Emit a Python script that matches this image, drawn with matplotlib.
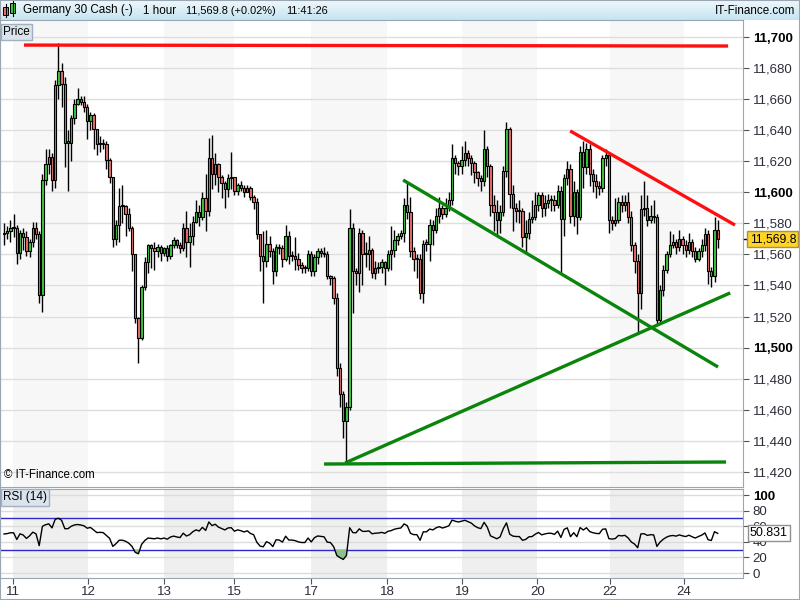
import numpy as np
import matplotlib
matplotlib.use("Agg")
import matplotlib.pyplot as plt
import matplotlib.transforms as mtransforms
from matplotlib.patches import Rectangle

plt.rcParams['font.family'] = ['Liberation Sans', 'DejaVu Sans']

# hourly bars (Germany 30 Cash)
closes = [11574, 11575, 11577, 11577, 11561, 11574, 11571, 11562, 11568, 11577,
          11573, 11534, 11608, 11618, 11623, 11608, 11669, 11678, 11670, 11632,
          11632, 11648, 11657, 11660, 11658, 11655, 11646, 11650, 11641, 11631,
          11632, 11631, 11621, 11610, 11570, 11579, 11591, 11591, 11586, 11577,
          11560, 11519, 11506, 11539, 11555, 11566, 11564, 11562, 11565, 11561,
          11564, 11559, 11566, 11569, 11566, 11564, 11577, 11568, 11572, 11581,
          11587, 11584, 11596, 11588, 11622, 11612, 11618, 11610, 11606, 11602,
          11609, 11610, 11601, 11605, 11603, 11600, 11603, 11597, 11594, 11573,
          11559, 11556, 11567, 11562, 11549, 11565, 11564, 11557, 11572, 11559,
          11559, 11557, 11553, 11551, 11551, 11560, 11549, 11558, 11562, 11561,
          11560, 11546, 11545, 11532, 11487, 11470, 11453, 11462, 11577, 11549,
          11548, 11574, 11560, 11560, 11563, 11548, 11551, 11552, 11555, 11551,
          11560, 11563, 11569, 11572, 11574, 11592, 11587, 11562, 11557, 11557,
          11535, 11567, 11567, 11579, 11576, 11585, 11590, 11586, 11590, 11595,
          11622, 11619, 11617, 11621, 11625, 11622, 11619, 11613, 11609, 11607,
          11628, 11617, 11592, 11587, 11582, 11587, 11614, 11641, 11599, 11590,
          11588, 11588, 11571, 11574, 11583, 11584, 11592, 11598, 11590, 11593,
          11595, 11595, 11592, 11601, 11583, 11609, 11615, 11585, 11600, 11584,
          11626, 11616, 11628, 11612, 11607, 11604, 11603, 11622, 11624, 11582,
          11580, 11582, 11594, 11592, 11594, 11584, 11566, 11556, 11535, 11589,
          11590, 11582, 11585, 11584, 11518, 11537, 11550, 11560, 11566, 11568,
          11565, 11570, 11566, 11563, 11568, 11562, 11557, 11562, 11566, 11573,
          11549, 11546, 11576, 11569.8]
highs = [11580, 11578, 11582, 11586, 11579, 11576, 11577, 11575, 11570, 11581,
         11581, 11575, 11612, 11628, 11628, 11625, 11672, 11696, 11683, 11674,
         11640, 11650, 11660, 11667, 11662, 11662, 11657, 11652, 11651, 11641,
         11636, 11634, 11633, 11622, 11610, 11582, 11603, 11605, 11592, 11590,
         11578, 11560, 11520, 11540, 11558, 11567, 11567, 11568, 11567, 11566,
         11565, 11566, 11567, 11571, 11570, 11568, 11580, 11588, 11580, 11585,
         11595, 11592, 11600, 11612, 11635, 11637, 11625, 11619, 11611, 11607,
         11612, 11626, 11608, 11606, 11607, 11605, 11605, 11604, 11598, 11596,
         11573, 11575, 11576, 11572, 11564, 11567, 11567, 11566, 11579, 11575,
         11562, 11571, 11561, 11555, 11553, 11563, 11562, 11560, 11564, 11564,
         11565, 11562, 11547, 11546, 11535, 11490, 11472, 11465, 11589, 11580,
         11551, 11577, 11576, 11568, 11572, 11564, 11556, 11555, 11557, 11556,
         11563, 11578, 11576, 11574, 11576, 11596, 11606, 11597, 11565, 11560,
         11560, 11569, 11570, 11583, 11582, 11590, 11597, 11592, 11596, 11600,
         11631, 11624, 11620, 11630, 11633, 11627, 11624, 11620, 11614, 11611,
         11640, 11630, 11618, 11598, 11595, 11592, 11617, 11645, 11642, 11605,
         11593, 11595, 11590, 11582, 11587, 11595, 11600, 11600, 11600, 11598,
         11599, 11598, 11598, 11605, 11604, 11612, 11620, 11618, 11607, 11602,
         11630, 11633, 11632, 11631, 11615, 11612, 11607, 11624, 11628, 11626,
         11585, 11596, 11597, 11598, 11598, 11600, 11588, 11568, 11560, 11598,
         11607, 11598, 11592, 11595, 11586, 11540, 11553, 11562, 11575, 11573,
         11570, 11576, 11572, 11569, 11574, 11570, 11565, 11564, 11570, 11577,
         11576, 11552, 11584, 11582]
lows = [11566, 11570, 11568, 11571, 11554, 11557, 11563, 11559, 11558, 11565,
        11570, 11529, 11523, 11605, 11612, 11601, 11603, 11660, 11655, 11616,
        11601, 11620, 11644, 11656, 11656, 11652, 11634, 11640, 11628, 11624,
        11626, 11628, 11615, 11606, 11565, 11566, 11568, 11580, 11572, 11575,
        11549, 11516, 11490, 11505, 11537, 11548, 11551, 11550, 11558, 11556,
        11559, 11556, 11557, 11564, 11564, 11561, 11562, 11558, 11552, 11566,
        11580, 11578, 11582, 11575, 11585, 11602, 11605, 11600, 11596, 11590,
        11597, 11602, 11598, 11598, 11601, 11597, 11600, 11595, 11589, 11570,
        11549, 11529, 11552, 11558, 11541, 11546, 11560, 11552, 11556, 11554,
        11556, 11550, 11550, 11548, 11548, 11549, 11546, 11546, 11554, 11558,
        11558, 11544, 11540, 11528, 11482, 11462, 11442, 11426, 11460, 11522,
        11540, 11536, 11540, 11552, 11550, 11545, 11544, 11548, 11548, 11540,
        11549, 11550, 11558, 11566, 11570, 11568, 11583, 11558, 11549, 11545,
        11531, 11529, 11562, 11556, 11566, 11574, 11580, 11583, 11584, 11588,
        11592, 11612, 11611, 11612, 11617, 11617, 11611, 11606, 11604, 11601,
        11604, 11610, 11585, 11575, 11572, 11574, 11585, 11610, 11590, 11575,
        11581, 11580, 11565, 11560, 11570, 11580, 11582, 11588, 11584, 11585,
        11590, 11588, 11588, 11590, 11548, 11572, 11605, 11580, 11578, 11573,
        11582, 11603, 11612, 11604, 11600, 11596, 11598, 11600, 11617, 11574,
        11576, 11578, 11580, 11587, 11588, 11580, 11562, 11548, 11509, 11525,
        11585, 11578, 11580, 11580, 11515, 11516, 11533, 11548, 11558, 11564,
        11560, 11562, 11560, 11558, 11560, 11558, 11555, 11556, 11558, 11562,
        11541, 11539, 11542, 11564]
opens = [11573] + closes[:-1]   # each hour opens where the previous one closed

price_ticks = [11420, 11440, 11460, 11480, 11500, 11520, 11540, 11560,
               11580, 11600, 11620, 11640, 11660, 11680, 11700]
bold_prices = [11500, 11600, 11700]
rsi_ticks = [0, 20, 40, 60, 80, 100]
rsi_levels = [30, 70]

day_labels = ['11', '12', '13', '15', '17', '18', '19', '20', '22', '24']
day_pos = [2.8, 26.25, 50.0, 71.9, 95.9, 119.7, 143.1, 166.6, 189.4, 212.5]

# hand drawn trend lines: start bar, start price, end bar, end price
line_x0 = [6.25, 176.9, 124.7, 106.6, 100.0]
line_p0 = [11694.8, 11639.5, 11607.9, 11425.7, 11425.0]
line_x1 = [226.25, 228.4, 223.1, 226.9, 225.6]
line_p1 = [11694.2, 11578.9, 11487.5, 11535.2, 11426.3]
line_col = ['#ff1010', '#ff1010', '#0a840a', '#0a840a', '#0a840a']

last_price = 11569.8
last_rsi = 50.831


def wilder_rsi(vals, n=14, seed=4.0):
    out = []
    ag = al = seed
    prev = vals[0]
    for v in vals:
        d = v - prev
        prev = v
        ag = (ag * (n - 1) + max(d, 0)) / n
        al = (al * (n - 1) + max(-d, 0)) / n
        out.append(100 - 100 / (1 + ag / al))
    return np.array(out)


o = np.array(opens, dtype=float)
c = np.array(closes, dtype=float)
h = np.array(highs, dtype=float)
l = np.array(lows, dtype=float)
x = np.arange(len(c))
rsi = wilder_rsi(c)

up_col = '#3ec83e'
dn_col = '#e8706a'
frame_col = '#9aa6b2'
lab_col = '#2e2a3a'

fig = plt.figure(figsize=(8, 6), dpi=100)
fig.patch.set_facecolor('white')

xlim = (-1.25, 230.9)

# ---- header bar
hdr = fig.add_axes([0, 580 / 600, 1, 20 / 600])
grad = np.linspace(0, 1, 20).reshape(-1, 1)
hdr.imshow(grad, cmap=matplotlib.colors.LinearSegmentedColormap.from_list(
    'hdr', ['#eef8fc', '#c6e4f0']), aspect='auto', extent=(0, 800, 20, 0))
hdr.set_xlim(0, 800)
hdr.set_ylim(20, 0)
hdr.axis('off')
# small candle icon
hdr.plot([5.5, 5.5], [4, 17], color='black', lw=0.8)
hdr.add_patch(Rectangle((3, 7), 5, 8, fc='#e8706a', ec='black', lw=0.7))
hdr.plot([12.5, 12.5], [1, 16], color='black', lw=0.8)
hdr.add_patch(Rectangle((10, 3), 5, 10, fc='#3ec83e', ec='black', lw=0.7))
hfont = dict(fontsize=8.4, color='black', va='center')
hdr.text(23, 10.5, 'Germany 30 Cash (-)', **hfont)
hdr.text(143, 10.5, '1 hour', **hfont)
hdr.text(186, 10.5, '11,569.8 (+0.02%)', color='black', va='center',
         fontsize=7.9)
hdr.text(286, 10.5, '11:41:26', color='black', va='center', fontsize=7.9)
hdr.text(795, 10.5, 'IT-Finance.com', ha='right', **hfont)

# ---- price panel
ax = fig.add_axes([0, 113 / 600, 743 / 800, 467 / 600])
ax.set_xlim(*xlim)
ax.set_ylim(11410.2, 11710.95)
for k in range(0, len(day_pos) - 1, 2):
    ax.axvspan(day_pos[k], day_pos[k + 1], color='#f7f7f7', lw=0, zorder=0)
for p in price_ticks:
    ax.axhline(p, color='#dedede', lw=1, zorder=1)

up = c >= o
bot = np.minimum(o, c)
hgt = np.maximum(np.abs(c - o), 0.8)
ax.vlines(x, l, h, color='black', lw=1, zorder=3)
ax.bar(x[up], hgt[up], bottom=bot[up], width=0.74, color=up_col,
       edgecolor='black', linewidth=0.8, zorder=4)
ax.bar(x[~up], hgt[~up], bottom=bot[~up], width=0.74, color=dn_col,
       edgecolor='black', linewidth=0.8, zorder=4)

for i in range(len(line_x0)):
    ax.plot([line_x0[i], line_x1[i]], [line_p0[i], line_p1[i]],
            color=line_col[i], lw=2.4, solid_capstyle='butt', zorder=5)

ax.yaxis.tick_right()
ax.set_yticks(price_ticks)
ax.set_yticklabels([f'{p:,}' for p in price_ticks])
ax.tick_params(axis='y', direction='out', length=4, pad=3, labelsize=9.5,
               colors='#555555', labelcolor=lab_col)
for t, p in zip(ax.get_yticklabels(), price_ticks):
    if p in bold_prices:
        t.set_fontweight('bold')
        t.set_color('black')
ax.set_xticks([])
for s in ax.spines.values():
    s.set_color(frame_col)

trans = mtransforms.blended_transform_factory(ax.transAxes, ax.transData)
ax.plot([1.0, 1.008], [last_price, last_price], color='black', lw=1,
        transform=trans, clip_on=False)
ax.text(1.009, last_price, '11,569.8', transform=trans, fontsize=8.8,
        va='center', ha='left', color='black', zorder=10,
        bbox=dict(boxstyle='square,pad=0.18', fc='#ffd426', ec='#a89050', lw=1))

ax.text(0.004, 0.987, 'Price', transform=ax.transAxes, fontsize=8.5,
        va='top', ha='left', color='black',
        bbox=dict(boxstyle='square,pad=0.2', fc='#dbe4ec', ec='#a0b0c0', lw=1))
ax.text(0.005, 0.012, '\u00a9 IT-Finance.com', transform=ax.transAxes,
        fontsize=8.3, va='bottom', ha='left', color='black')

# ---- RSI panel
ra = fig.add_axes([0, 22 / 600, 743 / 800, 89 / 600])
ra.set_xlim(*xlim)
ra.set_ylim(-6.4, 107.7)
for k in range(0, len(day_pos) - 1, 2):
    ra.axvspan(day_pos[k], day_pos[k + 1], color='#efefef', lw=0, zorder=0)
for v in rsi_ticks:
    ra.axhline(v, color='#dcdcdc', lw=1, zorder=1)
for v in rsi_levels:
    ra.axhline(v, color='#2a2ad0', lw=1, zorder=2)
ra.fill_between(x, rsi, 30, where=rsi < 30, interpolate=True,
                color='#8cc08c', lw=0, zorder=2)
ra.fill_between(x, rsi, 70, where=rsi > 70, interpolate=True,
                color='#e89090', lw=0, zorder=2)
ra.plot(x, rsi, color='black', lw=1, zorder=3)

ra.yaxis.tick_right()
ra.set_yticks(rsi_ticks)
ra.set_yticklabels([str(v) for v in rsi_ticks])
ra.tick_params(axis='y', direction='out', length=4, pad=3, labelsize=9.5,
               colors='#555555', labelcolor=lab_col)
ra.get_yticklabels()[-1].set_fontweight('bold')
ra.get_yticklabels()[-1].set_color('black')
ra.set_xticks(day_pos)
ra.set_xticklabels(day_labels)
ra.tick_params(axis='x', direction='out', length=4, pad=2, labelsize=9.5,
               colors='#555555', labelcolor=lab_col)
for s in ra.spines.values():
    s.set_color(frame_col)

rtrans = mtransforms.blended_transform_factory(ra.transAxes, ra.transData)
ra.text(1.009, last_rsi, f'{last_rsi:.3f}', transform=rtrans, fontsize=9,
        va='center', ha='left', color='black', zorder=10,
        bbox=dict(boxstyle='square,pad=0.15', fc='white', ec='#909090', lw=1))
ra.text(0.004, 0.975, 'RSI (14)', transform=ra.transAxes, fontsize=8.5,
        va='top', ha='left', color='black',
        bbox=dict(boxstyle='square,pad=0.2', fc='#dbe4ec', ec='#a0b0c0', lw=1))

fig.patches.append(Rectangle((0, 0), 1, 1, transform=fig.transFigure,
                             fill=False, ec=frame_col, lw=1.5))

fig.savefig('out.png', dpi=100)
